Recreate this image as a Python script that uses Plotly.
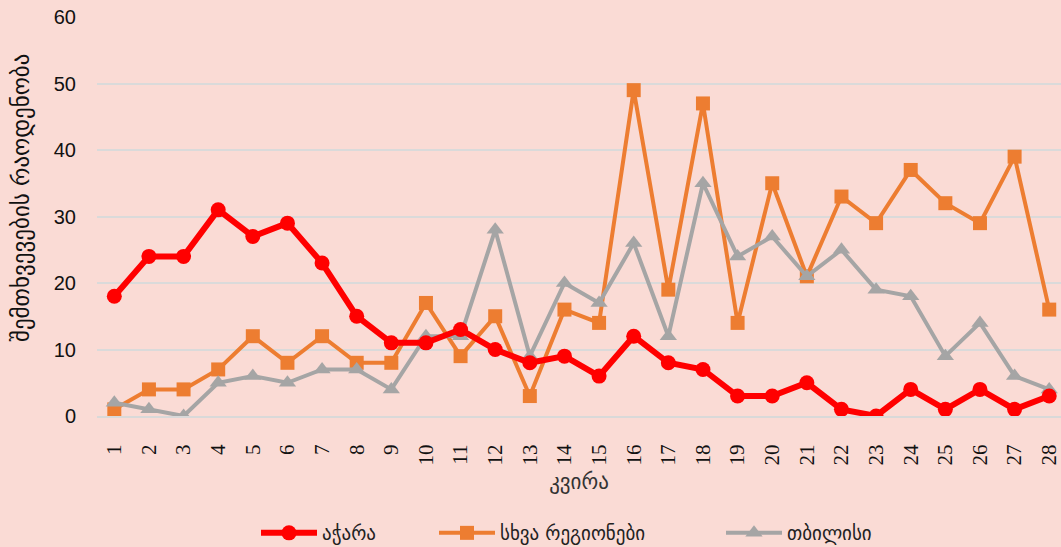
import plotly.graph_objects as go

weeks = [str(i) for i in range(1, 29)]
adjara = [18, 24, 24, 31, 27, 29, 23, 15, 11, 11, 13, 10, 8, 9, 6, 12, 8, 7, 3, 3, 5, 1, 0, 4, 1, 4, 1, 3]
other_regions = [1, 4, 4, 7, 12, 8, 12, 8, 8, 17, 9, 15, 3, 16, 14, 49, 19, 47, 14, 35, 21, 33, 29, 37, 32, 29, 39, 16]
tbilisi = [2, 1, 0, 5, 6, 5, 7, 7, 4, 12, 12, 28, 9, 20, 17, 26, 12, 35, 24, 27, 21, 25, 19, 18, 9, 14, 6, 4]

names = ["აჭარა", "სხვა რეგიონები", "თბილისი"]
y_title = "შემთხვევების რაოდენობა"
x_title = "კვირა"

bg = "#FADBD5"
geo_font = "DejaVu Sans, sans-serif"

fig = go.Figure()
xs = list(range(1, 29))
fig.add_trace(go.Scatter(x=xs, y=other_regions, name=names[1], mode="lines+markers", legend="legend2",
                         line=dict(color="#ED7D31", width=4),
                         marker=dict(symbol="square", size=14, color="#ED7D31")))
fig.add_trace(go.Scatter(x=xs, y=tbilisi, name=names[2], mode="lines+markers", legend="legend3",
                         line=dict(color="#A5A5A5", width=4),
                         marker=dict(symbol="triangle-up", size=15, color="#A5A5A5")))
fig.add_trace(go.Scatter(x=xs, y=adjara, name=names[0], mode="lines+markers", legend="legend",
                         line=dict(color="#FF0000", width=6),
                         marker=dict(symbol="circle", size=15, color="#FF0000")))

def leg(xpos):
    return dict(orientation="h", x=xpos, xanchor="left", xref="container",
                y=(547 - 533) / 547, yanchor="middle", yref="container",
                font=dict(family=geo_font, size=19, color="#222222"),
                bgcolor="rgba(0,0,0,0)", itemwidth=56)

fig.update_layout(
    width=1061, height=547,
    paper_bgcolor=bg, plot_bgcolor=bg,
    margin=dict(l=97, r=0, t=17, b=131, autoexpand=False),
    showlegend=True,
    legend=leg((262 - 6) / 1061),
    legend2=leg((440 - 6) / 1061),
    legend3=leg((727 - 6) / 1061),
    xaxis=dict(
        range=[0.5, 28.34], automargin=False,
        tickmode="array", tickvals=xs, ticktext=weeks,
        tickangle=-90,
        tickfont=dict(family="Liberation Serif, serif", size=21, color="#111111"),
        showgrid=False, zeroline=False,
        showline=True, linecolor="#D9D9D9", linewidth=2,
        ticks="", ticklabelstandoff=18, ticklabeloverflow="allow",
        title=dict(text=x_title, font=dict(family=geo_font, size=21, color="#333333"), standoff=10),
    ),
    yaxis=dict(
        range=[0, 60], dtick=10, automargin=False,
        tickfont=dict(family="Liberation Sans, sans-serif", size=20, color="#111111"),
        showgrid=True, gridcolor="#DADADA", gridwidth=2,
        zeroline=False, showline=False, ticks="", ticklabelstandoff=20,
    ),
    annotations=[dict(
        text=y_title, textangle=-90, showarrow=False,
        xref="paper", x=(21 - 97) / 964, xanchor="center",
        yref="paper", y=(416 - 198) / 399, yanchor="middle",
        font=dict(family=geo_font, size=23, color="#111111"),
    )],
)

fig.write_html("out.html", config={"displayModeBar": False},
               post_script="document.body.style.margin='0px';")
